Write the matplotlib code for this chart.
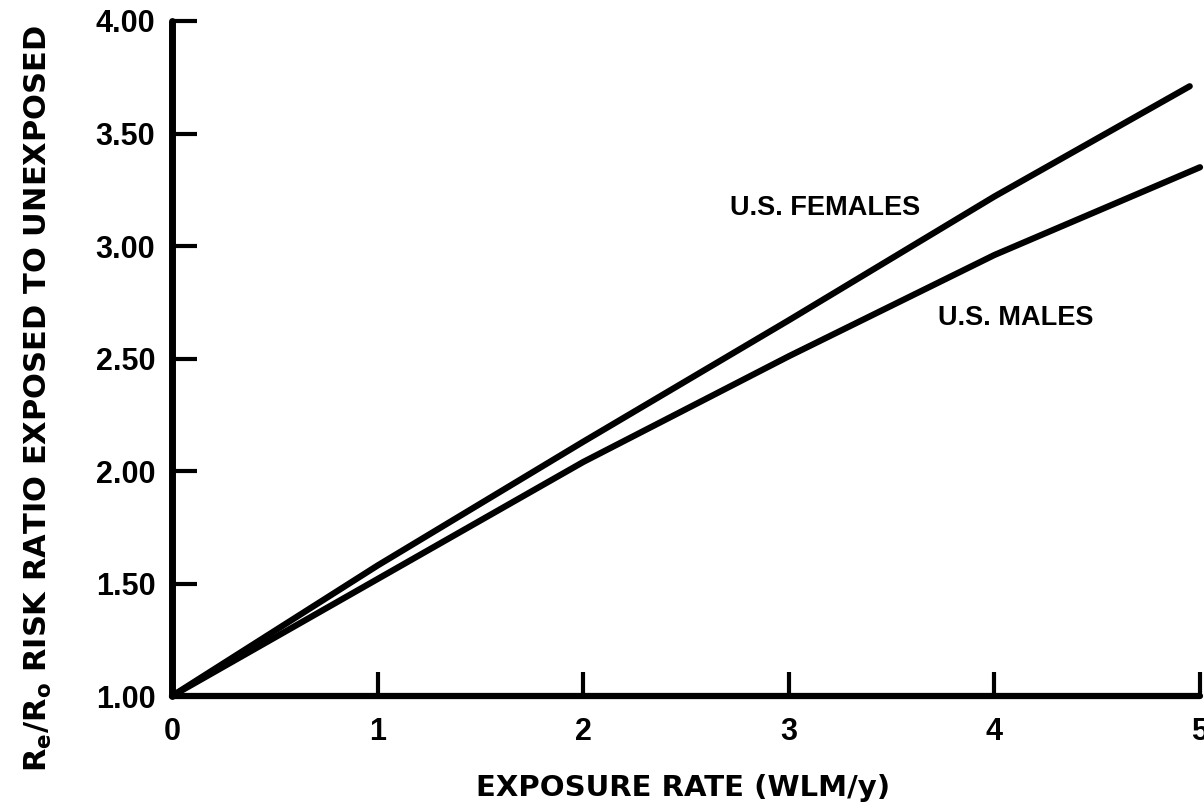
import matplotlib
matplotlib.use("Agg")
import matplotlib.pyplot as plt

# values
exposure = [0, 1, 2, 3, 4, 5]
females_x = [0, 1, 2, 3, 4, 4.95]
females = [1.00, 1.58, 2.13, 2.67, 3.22, 3.71]
males = [1.00, 1.52, 2.04, 2.51, 2.96, 3.35]
y_ticks = [1.0, 1.5, 2.0, 2.5, 3.0, 3.5, 4.0]
y_tick_labels = ["1.00", "1.50", "2.00", "2.50", "3.00", "3.50", "4.00"]

plt.rcParams['mathtext.fontset'] = 'custom'
plt.rcParams['mathtext.bf'] = 'DejaVu Sans:bold'
plt.rcParams['mathtext.default'] = 'bf'

fig = plt.figure(figsize=(12.04, 8.08), dpi=100)
ax = fig.add_axes([0.14286, 0.13861, 0.85382, 0.83540])

ax.plot(females_x, females, color='black', lw=4.5, solid_capstyle='round', clip_on=False)
ax.plot(exposure, males, color='black', lw=4.5, solid_capstyle='round', clip_on=False)

ax.set_xlim(0, 5)
ax.set_ylim(1, 4)

for s in ['top', 'right']:
    ax.spines[s].set_visible(False)
ax.spines['left'].set_linewidth(5)
ax.spines['bottom'].set_linewidth(4.5)
ax.spines['left'].set_capstyle('round')
ax.spines['bottom'].set_capstyle('round')

tick_font = dict(family='Liberation Sans', weight='bold', size=22)
ax.set_xticks(exposure)
ax.set_xticklabels([str(v) for v in exposure], **tick_font)
ax.set_yticks(y_ticks)
ax.set_yticklabels(y_tick_labels, **tick_font)
ax.tick_params(axis='x', direction='in', length=17, width=3, pad=15)
ax.tick_params(axis='y', direction='in', length=18, width=3, pad=12)

ax.text(2.714, 3.169, "U.S. FEMALES", ha='left', va='center',
        family='Liberation Sans', weight='bold', size=19.5)
ax.text(3.726, 2.679, "U.S. MALES", ha='left', va='center',
        family='Liberation Sans', weight='bold', size=19.5)

fig.text(683 / 1204, 1 - 788 / 808, "EXPOSURE RATE (WLM/y)", ha='center', va='center',
         family='DejaVu Sans', weight='bold', size=21)
fig.text(38 / 1204, 1 - 398 / 808, r"R$_e$/R$_o$ RISK RATIO EXPOSED TO UNEXPOSED",
         rotation=90, ha='center', va='center',
         family='DejaVu Sans', weight='bold', size=22)

plt.savefig('out.png', dpi=100)
